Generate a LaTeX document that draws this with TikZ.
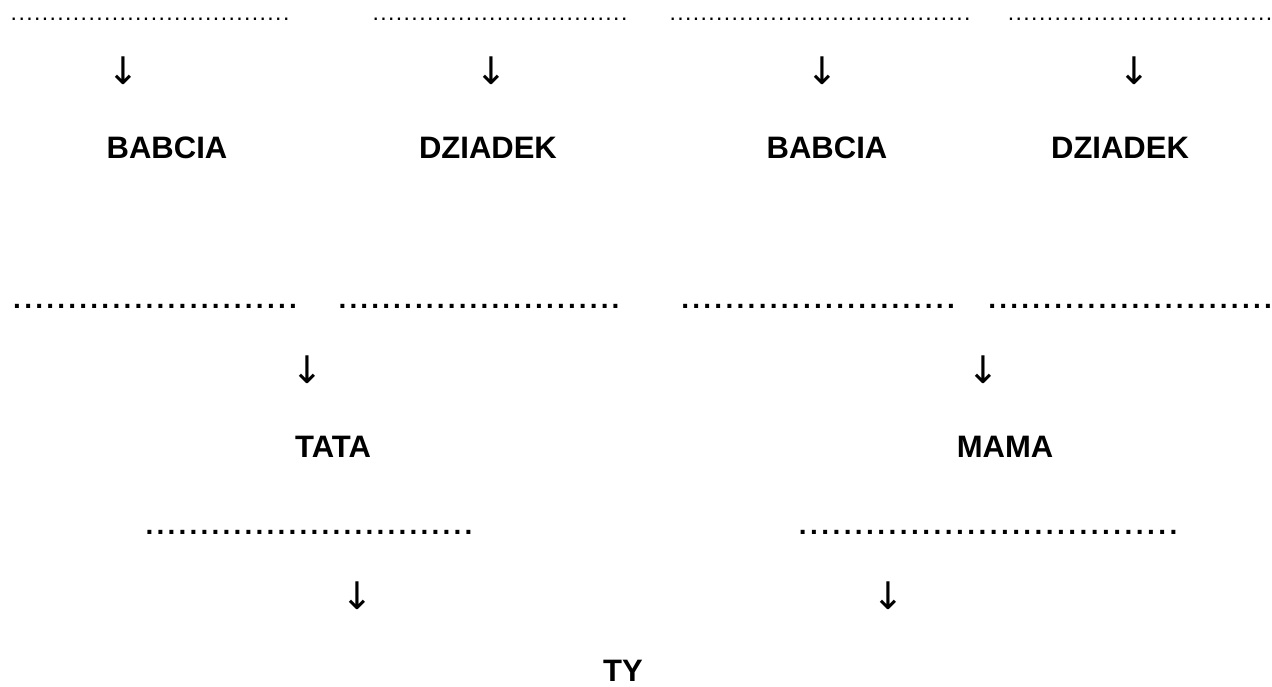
\documentclass[tikz,border=0pt]{standalone}
\usepackage{fontspec}
\setmainfont{Liberation Sans}
\newfontfamily\arrfont{DejaVu Sans}
\newcommand\dotrow[2]{\hbox to #1{\xleaders\hbox to #2{\hss.\hss}\hfill}}
\begin{document}
\begin{tikzpicture}[x=1pt,y=-1pt,
  lbl/.style={inner sep=0pt,font=\bfseries\fontsize{31}{31}\selectfont},
  arr/.style={inner sep=0pt,font=\arrfont\fontsize{38}{38}\selectfont},
  dotsA/.style={inner sep=0pt,font=\fontsize{23}{23}\selectfont},
  dotsB/.style={inner sep=0pt,font=\bfseries\fontsize{28}{28}\selectfont}]
\useasboundingbox (0,0) rectangle (1272,686);
% row 1 dots
\node[dotsA] (d1a) at (150,19) {\dotrow{280pt}{7.7pt}};
\node[dotsA] (d1b) at (500,19) {\dotrow{256pt}{7.7pt}};
\node[dotsA] (d1c) at (820,19) {\dotrow{302pt}{7.7pt}};
\node[dotsA] (d1d) at (1140,19) {\dotrow{266pt}{7.7pt}};
% row 1 arrows
\node[arr] (a1a) at (123,71) {↓};
\node[arr] (a1b) at (491,71) {↓};
\node[arr] (a1c) at (822,71) {↓};
\node[arr] (a1d) at (1134,71) {↓};
% grandparents
\node[lbl] (b1) at (167,148) {BABCIA};
\node[lbl] (g1) at (488,148) {DZIADEK};
\node[lbl] (b2) at (827,148) {BABCIA};
\node[lbl] (g2) at (1120,148) {DZIADEK};
% row 2 dots
\node[dotsB] (d2a) at (155,306) {\dotrow{287pt}{10.8pt}};
\node[dotsB] (d2b) at (479,306) {\dotrow{284pt}{10.8pt}};
\node[dotsB] (d2c) at (818,306) {\dotrow{277pt}{10.8pt}};
\node[dotsB] (d2d) at (1130,306) {\dotrow{287pt}{10.8pt}};
% row 2 arrows
\node[arr] (a2a) at (307,370) {↓};
\node[arr] (a2b) at (983,370) {↓};
% parents
\node[lbl] (tata) at (333,447) {TATA};
\node[lbl] (mama) at (1005,447) {MAMA};
% row 3 dots
\node[dotsB] (d3a) at (309,532) {\dotrow{330pt}{11pt}};
\node[dotsB] (d3b) at (988,532) {\dotrow{382pt}{11pt}};
% row 3 arrows
\node[arr] (a3a) at (357,596) {↓};
\node[arr] (a3b) at (888,596) {↓};
% you
\node[lbl] (ty) at (623,671) {TY};
\end{tikzpicture}
\end{document}
